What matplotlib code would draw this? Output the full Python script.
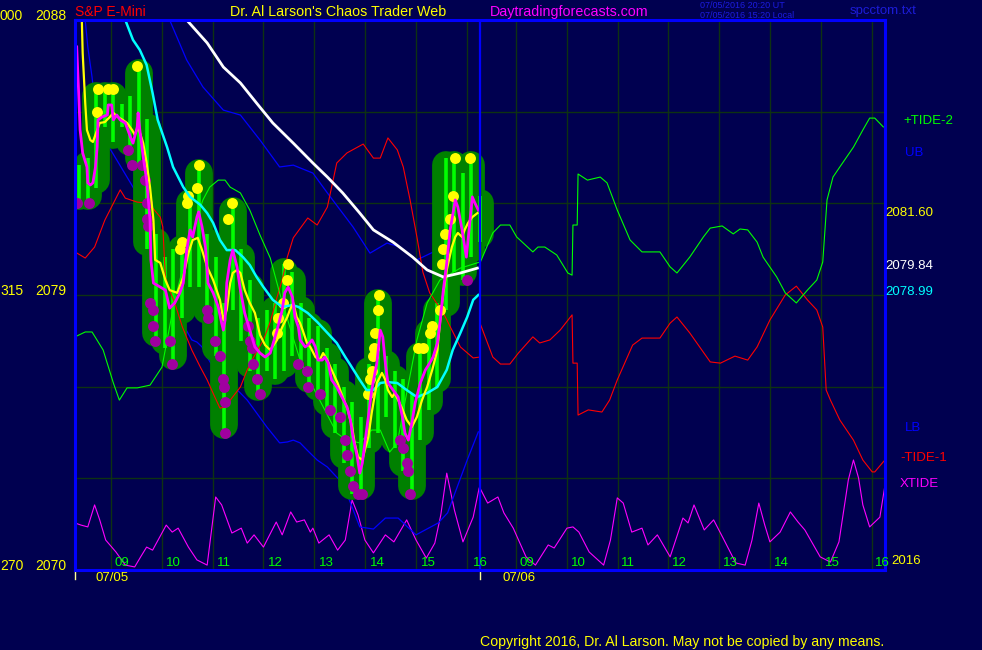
import matplotlib
matplotlib.use("Agg")
import matplotlib.pyplot as plt
import matplotlib.transforms as mtransforms
import numpy as np

plt.rcParams['font.family'] = ['Liberation Sans', 'DejaVu Sans']

# each session is drawn 08:05-16:00, times below are minutes after 08:05
SESSION = 475          # day 2 (07/06) starts where day 1 (07/05) ends

hours = ['09', '10', '11', '12', '13', '14', '15', '16']
hour_min_d1 = [55, 115, 175, 235, 295, 355, 415, 475]
hour_min_d2 = [55, 115, 174, 234, 294, 354, 413, 472]
grid_min = [42, 102, 162, 221, 280, 340, 400, 460]
grid_px = [2073, 2076, 2079, 2082, 2085]

# ---- 10 minute price bars, 07/05 ----
bar_min = np.arange(5, 476, 10)
bar_hi = [2083.25, 2083.5, 2085.75, 2085.75, 2085.75, 2085.25, 2085.5, 2086.5, 2084.75, 2081.0,
          2080.25, 2080.5, 2080.75, 2082.25, 2083.25, 2081.0, 2080.25, 2078.75, 2082.0, 2080.5,
          2079.5, 2078.25, 2078.5, 2078.75, 2080.0, 2079.75, 2078.75, 2078.25, 2078.0, 2077.25,
          2076.75, 2076.0, 2075.5, 2075.0, 2076.75, 2079.0, 2077.0, 2076.5, 2076.25, 2075.75,
          2077.25, 2078.0, 2078.75, 2083.5, 2083.5, 2083.0, 2083.5, 2082.25]
bar_lo = [2082.0, 2082.0, 2082.5, 2084.5, 2084.0, 2084.5, 2083.75, 2083.25, 2080.5, 2077.5,
          2077.25, 2076.75, 2078.25, 2079.25, 2079.25, 2078.25, 2077.0, 2074.5, 2078.5, 2077.5,
          2076.5, 2075.75, 2076.5, 2076.25, 2076.5, 2077.0, 2076.75, 2076.0, 2075.75, 2075.25,
          2074.5, 2073.5, 2072.5, 2072.5, 2074.0, 2074.5, 2075.0, 2074.0, 2073.25, 2072.5,
          2074.25, 2075.25, 2076.0, 2078.5, 2079.75, 2079.5, 2080.25, 2080.75]

# marked highs (yellow) and lows (purple)
hi_dot_min = [26, 27, 39, 45, 73, 123, 125, 131, 133, 143,
              145, 179, 184, 237, 238, 244, 249, 250, 344, 346,
              348, 350, 351, 352, 355, 357, 402, 408, 416, 419,
              428, 430, 432, 434, 440, 443, 446, 463]
hi_dot = [2085.0, 2085.75, 2085.75, 2085.75, 2086.5, 2080.5, 2080.75, 2082.0, 2082.25, 2082.5,
          2083.25, 2081.5, 2082.0, 2077.75, 2078.25, 2078.75, 2079.5, 2080.0, 2075.75, 2076.25,
          2076.5, 2077.0, 2077.25, 2077.75, 2078.5, 2079.0, 2077.25, 2077.25, 2077.75, 2078.0,
          2078.5, 2080.0, 2080.5, 2081.0, 2081.5, 2082.25, 2083.5, 2083.5]
lo_dot_min = [2, 16, 62, 67, 79, 82, 84, 85, 86, 88,
              91, 92, 94, 111, 114, 155, 156, 164, 170, 174,
              175, 176, 176, 203, 205, 208, 209, 214, 217, 262,
              272, 273, 287, 299, 311, 317, 319, 323, 326, 332,
              337, 381, 385, 389, 391, 393, 460]
lo_dot = [2082.0, 2082.0, 2083.75, 2083.25, 2083.25, 2082.75, 2082.0, 2081.5, 2081.25, 2078.75,
          2078.5, 2078.0, 2077.5, 2077.5, 2076.75, 2078.5, 2078.25, 2077.5, 2077.0, 2076.25,
          2076.0, 2075.5, 2074.5, 2078.0, 2077.5, 2077.25, 2076.75, 2076.25, 2075.75, 2076.75,
          2076.5, 2076.0, 2075.75, 2075.25, 2075.0, 2074.25, 2073.75, 2073.25, 2072.75, 2072.5,
          2072.5, 2074.25, 2074.0, 2073.5, 2073.25, 2072.5, 2079.5]

# ---- moving averages, 07/05 ----
mag_min = [2, 4, 6, 9, 14, 15, 18, 21, 24, 26,
           27, 32, 38, 39, 43, 45, 49, 53, 59, 65,
           68, 73, 74, 76, 80, 84, 86, 88, 89, 92,
           100, 106, 111, 117, 123, 127, 131, 135, 138, 143,
           145, 149, 153, 156, 162, 168, 172, 174, 176, 178,
           182, 185, 190, 194, 199, 205, 211, 217, 223, 229,
           237, 243, 246, 250, 255, 258, 262, 264, 270, 273,
           278, 282, 285, 290, 293, 297, 301, 307, 313, 319,
           323, 326, 331, 334, 337, 340, 344, 348, 354, 358,
           361, 364, 367, 373, 379, 384, 387, 391, 395, 399,
           405, 411, 416, 420, 425, 428, 432, 436, 440, 446,
           449, 454, 459, 461, 466, 469, 473]
mag_px = [2087.12, 2085.81, 2084.40, 2083.65, 2083.19, 2082.67, 2082.60, 2082.67, 2083.19, 2083.84,
          2084.73, 2084.83, 2084.89, 2085.22, 2085.22, 2084.73, 2084.89, 2084.73, 2084.63, 2084.17,
          2083.97, 2084.50, 2084.96, 2084.40, 2083.52, 2082.76, 2082.11, 2081.45, 2080.15, 2079.39,
          2079.26, 2079.16, 2078.57, 2078.74, 2079.07, 2079.39, 2080.47, 2081.13, 2080.90, 2081.55,
          2081.72, 2081.23, 2080.57, 2079.39, 2079.07, 2078.61, 2078.08, 2077.85, 2078.18, 2079.39,
          2080.15, 2080.47, 2079.92, 2079.16, 2078.41, 2077.85, 2077.30, 2077.10, 2076.97, 2077.10,
          2077.85, 2078.51, 2079.07, 2079.26, 2078.93, 2078.28, 2077.95, 2077.53, 2077.30, 2077.36,
          2077.53, 2077.30, 2076.87, 2076.87, 2076.97, 2076.77, 2076.22, 2075.99, 2075.66, 2075.34,
          2074.91, 2074.35, 2073.70, 2073.17, 2073.50, 2074.16, 2075.01, 2075.89, 2076.77, 2077.85,
          2077.63, 2076.77, 2076.12, 2075.89, 2075.66, 2075.01, 2074.48, 2074.25, 2074.81, 2075.47,
          2076.12, 2076.55, 2076.77, 2076.97, 2077.43, 2078.08, 2079.16, 2080.05, 2081.13, 2082.11,
          2081.88, 2081.13, 2080.24, 2080.80, 2082.21, 2082.01, 2081.78]

yel_min = [8, 9, 12, 14, 18, 21, 26, 29, 35, 41,
           45, 50, 56, 61, 67, 70, 74, 80, 84, 88,
           92, 94, 100, 106, 111, 120, 127, 133, 138, 144,
           149, 155, 162, 170, 174, 178, 182, 185, 190, 194,
           199, 205, 211, 217, 223, 229, 237, 243, 249, 252,
           256, 260, 264, 267, 272, 276, 282, 287, 291, 296,
           301, 308, 314, 320, 325, 328, 332, 337, 340, 344,
           348, 354, 360, 364, 367, 372, 375, 379, 383, 389,
           395, 401, 407, 413, 419, 425, 428, 432, 436, 442,
           446, 449, 454, 457, 461, 466, 472]
yel_px = [2088.00, 2086.92, 2085.28, 2084.40, 2084.07, 2084.01, 2084.40, 2084.63, 2084.66, 2084.83,
          2084.96, 2084.83, 2084.73, 2084.63, 2084.40, 2084.24, 2084.50, 2083.97, 2083.32, 2082.53,
          2081.45, 2080.15, 2080.05, 2079.49, 2079.16, 2079.07, 2079.59, 2080.37, 2080.80, 2080.87,
          2080.47, 2079.92, 2079.49, 2078.84, 2078.18, 2078.51, 2079.39, 2079.72, 2079.82, 2079.72,
          2079.16, 2078.74, 2078.41, 2077.69, 2077.36, 2077.20, 2077.53, 2077.95, 2078.28, 2078.51,
          2078.74, 2078.28, 2078.08, 2077.85, 2077.43, 2077.30, 2076.97, 2076.87, 2077.10, 2076.87,
          2076.55, 2076.12, 2075.66, 2075.24, 2074.68, 2074.16, 2073.70, 2073.60, 2073.93, 2074.35,
          2075.14, 2076.12, 2076.45, 2076.22, 2075.89, 2075.66, 2075.79, 2075.56, 2075.33, 2074.91,
          2074.68, 2075.01, 2075.56, 2075.99, 2076.55, 2077.20, 2078.08, 2079.07, 2079.82, 2080.57,
          2080.90, 2081.03, 2080.90, 2081.13, 2081.36, 2081.55, 2081.68]

cya_min = [59, 68, 76, 84, 91, 97, 108, 115, 127, 135,
           147, 155, 162, 170, 178, 188, 197, 205, 213, 221,
           232, 243, 255, 262, 273, 284, 296, 307, 317, 323,
           334, 342, 350, 358, 366, 378, 389, 401, 413, 425,
           436, 443, 452, 460, 467, 473]
cya_px = [2088.00, 2087.35, 2087.02, 2086.53, 2085.61, 2084.73, 2083.84, 2083.19, 2082.53, 2082.21,
          2081.95, 2081.68, 2081.36, 2080.80, 2080.47, 2080.47, 2080.24, 2079.98, 2079.59, 2079.26,
          2078.84, 2078.61, 2078.67, 2078.61, 2078.41, 2078.12, 2077.76, 2077.43, 2076.97, 2076.71,
          2076.22, 2075.89, 2075.89, 2076.12, 2076.15, 2076.12, 2075.89, 2075.66, 2075.79, 2075.99,
          2076.55, 2077.20, 2077.76, 2078.28, 2078.84, 2079.00]

wht_min = [131, 155, 174, 194, 213, 232, 256, 279, 296, 314, 334, 350, 373, 396, 413, 432, 452, 472]
wht_px = [2088.00, 2087.25, 2086.46, 2085.94, 2085.28, 2084.63, 2083.97, 2083.32, 2082.86,
          2082.34, 2081.68, 2081.13, 2080.73, 2080.24, 2079.82, 2079.59, 2079.72, 2079.88]

# upper / lower band
ub_min = [111, 131, 150, 174, 194, 217, 240, 256, 279, 296, 326, 346, 366, 381, 401, 425, 452]
ub_px = [2088.00, 2086.69, 2085.81, 2085.05, 2084.89, 2084.07, 2083.19, 2083.25, 2082.99,
         2082.34, 2081.23, 2080.37, 2080.70, 2080.57, 2080.15, 2080.47, 2080.47]
lb_min = [12, 15, 20, 23, 35, 70, 94, 117, 137, 143, 149, 155, 162, 194, 202, 213, 225, 240,
          249, 256, 264, 272, 284, 296, 307, 314, 334, 350, 364, 379, 400, 426, 437, 460, 473]
lb_px = [2088.00, 2087.12, 2086.13, 2085.38, 2084.07, 2082.44, 2080.15, 2078.51, 2077.53, 2077.46,
         2077.30, 2076.97, 2076.64, 2075.79, 2075.56, 2075.14, 2074.68, 2074.16, 2074.19, 2074.25,
         2074.16, 2073.93, 2073.60, 2073.37, 2073.04, 2072.85, 2071.41, 2071.34, 2071.70, 2071.70,
         2071.15, 2071.54, 2071.87, 2073.60, 2074.52]

# ---- tides, both days ----
tide1_d1_min = [0, 12, 23, 35, 47, 53, 59, 73, 86, 91,
                100, 103, 106, 111, 117, 126, 137, 147, 155, 164,
                170, 176, 184, 194, 202, 209, 221, 229, 237, 243,
                249, 256, 273, 284, 296, 307, 319, 338, 350, 358,
                367, 378, 385, 393, 401, 408, 416, 432, 452, 467,
                475]
tide1_d1 = [2080.41, 2080.21, 2080.57, 2081.45, 2082.11, 2082.44, 2082.17, 2082.04, 2082.01, 2081.85,
            2081.55, 2081.23, 2079.59, 2079.16, 2078.74, 2077.95, 2077.20, 2076.64, 2076.22, 2075.66,
            2075.30, 2075.33, 2075.63, 2075.99, 2076.55, 2076.94, 2077.53, 2078.12, 2078.93, 2079.49,
            2080.24, 2080.87, 2081.52, 2081.29, 2081.88, 2083.32, 2083.65, 2083.94, 2083.48, 2083.48,
            2084.14, 2083.75, 2083.19, 2082.11, 2080.90, 2079.75, 2079.07, 2078.41, 2077.30, 2076.94,
            2076.97]
tide1_d2_min = [0, 15, 24, 35, 45, 62, 70, 82, 94, 108,
                109, 114, 115, 127, 143, 152, 161, 179, 190, 211,
                223, 231, 246, 270, 282, 299, 314, 325, 340, 358,
                371, 384, 395, 402, 406, 411, 422, 438, 449, 460,
                463, 473, 475]
tide1_d2 = [2078.08, 2076.97, 2076.74, 2076.74, 2077.10, 2077.63, 2077.43, 2077.53, 2077.85, 2078.35,
            2076.77, 2076.77, 2075.07, 2075.24, 2075.17, 2075.56, 2076.22, 2077.36, 2077.59, 2077.59,
            2078.08, 2078.28, 2077.76, 2076.81, 2076.77, 2077.00, 2076.87, 2077.30, 2078.18, 2079.00,
            2079.29, 2078.84, 2078.51, 2077.95, 2075.89, 2075.56, 2074.91, 2074.25, 2073.60, 2073.21,
            2073.21, 2073.54, 2073.60]
tide2_d1_min = [0, 12, 20, 33, 45, 52, 61, 73, 88, 102,
                117, 135, 150, 158, 168, 176, 182, 194, 205, 217,
                229, 240, 252, 264, 279, 307, 319, 334, 348, 358,
                369, 378, 389, 401, 413, 428, 452, 475]
tide2_d1 = [2077.63, 2077.79, 2077.79, 2077.20, 2076.12, 2075.56, 2075.96, 2075.96, 2076.05, 2076.64,
            2078.84, 2080.80, 2082.11, 2082.53, 2082.76, 2082.76, 2082.53, 2082.34, 2081.78, 2080.96,
            2080.21, 2079.07, 2077.95, 2076.87, 2075.99, 2074.48, 2074.25, 2074.16, 2074.58, 2074.58,
            2073.86, 2074.16, 2075.79, 2077.53, 2078.74, 2079.49, 2079.88, 2080.08]
tide2_d2_min = [0, 15, 24, 35, 43, 62, 68, 76, 90, 103,
                108, 109, 114, 115, 126, 141, 149, 161, 176, 190,
                211, 223, 231, 246, 262, 270, 284, 297, 305, 314,
                325, 332, 348, 358, 371, 384, 395, 402, 407, 414,
                422, 438, 449, 457, 463, 473]
tide2_d2 = [2080.05, 2081.03, 2081.29, 2081.29, 2080.90, 2080.41, 2080.57, 2080.57, 2080.31, 2079.72,
            2079.65, 2081.29, 2081.29, 2082.96, 2082.76, 2082.86, 2082.67, 2081.78, 2080.80, 2080.41,
            2080.41, 2079.92, 2079.72, 2080.24, 2080.90, 2081.19, 2081.26, 2081.00, 2081.16, 2081.13,
            2080.73, 2080.24, 2079.59, 2079.07, 2078.74, 2079.16, 2079.49, 2080.08, 2082.11, 2082.86,
            2083.19, 2083.84, 2084.40, 2084.79, 2084.79, 2084.50]

# XTIDE, drawn on the price scale at the bottom
xt_d1_min = [0, 7, 15, 23, 29, 36, 48, 59, 70, 77,
             84, 91, 107, 114, 121, 133, 143, 155, 165, 172,
             184, 195, 202, 210, 221, 236, 243, 253, 260, 269,
             276, 279, 286, 298, 308, 317, 325, 332, 340, 350,
             364, 374, 389, 400, 412, 422, 429, 436, 445, 455,
             467, 474]
xt_d1 = [2071.54, 2071.47, 2071.41, 2072.13, 2071.64, 2070.98, 2070.59, 2070.16, 2070.10, 2070.43,
         2070.75, 2070.65, 2071.47, 2071.24, 2071.37, 2070.75, 2070.33, 2070.16, 2072.39, 2072.13,
         2071.21, 2071.37, 2070.88, 2071.15, 2070.75, 2071.57, 2071.15, 2071.90, 2071.57, 2071.64,
         2071.24, 2071.37, 2070.88, 2071.15, 2070.65, 2070.98, 2072.29, 2071.80, 2070.98, 2070.56,
         2071.15, 2070.92, 2071.64, 2070.98, 2070.39, 2070.88, 2071.80, 2073.17, 2071.96, 2070.92,
         2071.73, 2072.68]
xt_d2_min = [0, 9, 21, 28, 39, 54, 65, 80, 87, 102,
             109, 116, 128, 145, 153, 161, 168, 178, 190, 197,
             208, 223, 238, 244, 251, 263, 274, 285, 300, 311,
             319, 327, 334, 340, 352, 364, 373, 381, 399, 411,
             421, 432, 438, 444, 449, 457, 469, 475]
xt_d2 = [2072.68, 2072.19, 2072.39, 2071.87, 2071.37, 2070.43, 2070.16, 2070.82, 2070.72, 2071.37,
         2071.41, 2071.24, 2070.59, 2070.16, 2070.98, 2072.36, 2072.19, 2071.24, 2071.37, 2070.82,
         2071.15, 2070.43, 2071.70, 2071.54, 2072.13, 2071.31, 2071.64, 2071.05, 2070.23, 2070.16,
         2070.98, 2072.19, 2071.47, 2070.92, 2071.24, 2071.90, 2071.57, 2071.31, 2070.43, 2070.26,
         2070.92, 2072.95, 2073.60, 2073.01, 2072.13, 2071.41, 2071.73, 2072.78]

last_vals = [2081.60, 2079.84, 2078.99]
last_cols = ['#ffff00', '#ffffff', '#00ffff']


def d2(m):
    return np.array(m) + SESSION


BG = '#000050'
W, H = 982, 650
fig = plt.figure(figsize=(W / 100, H / 100), dpi=100, facecolor=BG)
ax = fig.add_axes([75 / W, 80 / H, 810 / W, 550 / H])
ax.set_facecolor(BG)
ax.set_xlim(0, 2 * SESSION)
ax.set_ylim(2070, 2088)
ax.set_xticks([])
ax.set_yticks([])
for s in ax.spines.values():
    s.set_color('#0000ff')
    s.set_linewidth(2.2)
    s.set_zorder(10)

grid_col = '#0e3212'
for g in grid_min:
    ax.axvline(g, color=grid_col, lw=1, zorder=0)
    ax.axvline(g + SESSION, color=grid_col, lw=1, zorder=0)
for p in grid_px:
    ax.axhline(p, color=grid_col, lw=1, zorder=0)
ax.axvline(SESSION, color='#0000ff', lw=1.6, zorder=9)

# XTIDE
ax.plot(xt_d1_min, xt_d1, color='#ff00ff', lw=0.8, zorder=1)
ax.plot(d2(xt_d2_min), xt_d2, color='#ff00ff', lw=0.8, zorder=1)

# bands
ax.plot(ub_min, ub_px, color='#0000ff', lw=0.9, zorder=2)
ax.plot(lb_min, lb_px, color='#0000ff', lw=0.9, zorder=2)

# price bars: dark green halo (a little inside the extremes) + bright bar
for t, hi, lo in zip(bar_min, bar_hi, bar_lo):
    mid = (hi + lo) / 2
    top, bot = max(hi - 0.25, mid), min(lo + 0.25, mid)
    ax.plot([t, t], [bot, top], color='#008000', lw=20, solid_capstyle='round', zorder=3)
for t, hi, lo in zip(bar_min, bar_hi, bar_lo):
    ax.plot([t, t], [lo, hi], color='#00ff00', lw=2.6, solid_capstyle='butt', zorder=4)

# tides
ax.plot(tide1_d1_min, tide1_d1, color='#ff0000', lw=0.8, zorder=5)
ax.plot(d2(tide1_d2_min), tide1_d2, color='#ff0000', lw=0.8, zorder=5)
ax.plot(tide2_d1_min, tide2_d1, color='#00ff00', lw=0.8, zorder=5)
ax.plot(d2(tide2_d2_min), tide2_d2, color='#00ff00', lw=0.8, zorder=5)

# marked highs / lows
ax.scatter(hi_dot_min, hi_dot, s=62, color='#ffff00', linewidths=0, zorder=6)
ax.scatter(lo_dot_min, lo_dot, s=62, color='#a000a0', linewidths=0, zorder=6)

# averages
ax.plot(wht_min, wht_px, color='#ffffff', lw=2.0, zorder=7)
ax.plot(cya_min, cya_px, color='#00ffff', lw=1.8, zorder=7)
ax.plot(yel_min, yel_px, color='#ffff00', lw=1.6, zorder=8)
ax.plot(mag_min, mag_px, color='#ff00ff', lw=2.0, zorder=8)

# hour labels for both days
for day, hmins in ((0, hour_min_d1), (SESSION, hour_min_d2)):
    for h, m in zip(hours, hmins):
        ax.text(day + m, 2070.12, h, color='#00ff00', fontsize=9.5,
                ha='center', va='baseline', zorder=11, clip_on=False)
ax.text(24, 2069.93, '07/05', color='#ffff00', fontsize=9.5, ha='left', va='top')
ax.text(SESSION + 26, 2069.93, '07/06', color='#ffff00', fontsize=9.5, ha='left', va='top')
for x0 in (0, SESSION):
    ax.plot([x0, x0], [2070, 2069.7], color='#ffff99', lw=1, clip_on=False)

# price labels
tr = mtransforms.blended_transform_factory(fig.transFigure, ax.transData)
for val, other in zip([2088, 2079, 2070], ['000', '315', '270']):
    fig.text(0.0, val, other, transform=tr, color='#ffff00', fontsize=10, ha='left', va='baseline')
    fig.text(66 / W, val, str(val), transform=tr, color='#ffff00', fontsize=10, ha='right', va='baseline')
for v, c in zip(last_vals, last_cols):
    fig.text(885 / W, v, f'{v:.2f}', transform=tr, color=c, fontsize=9.5, ha='left', va='baseline')


def ftext(x, y, s, color, size=9.5, **kw):
    fig.text(x / W, 1 - y / H, s, color=color, fontsize=size, va='center', ha='left', **kw)


ftext(903, 121, '+TIDE-2', '#00ff00')
ftext(905, 153, 'UB', '#0000ff')
ftext(905, 428, 'LB', '#0000ff')
ftext(900, 458, '-TIDE-1', '#ff0000')
ftext(900, 484, 'XTIDE', '#ff00ff')
ftext(891, 561, '2016', '#ffff00')

ftext(75, 12, 'S&P E-Mini', '#ff0000', size=10)
ftext(230, 12, "Dr. Al Larson's Chaos Trader Web", '#ffff00', size=10.3)
ftext(490, 12, 'Daytradingforecasts.com', '#ff00ff', size=10.3)
ftext(700, 5, '07/05/2016 20:20 UT', '#1c1ce0', size=6.5)
ftext(700, 15, '07/05/2016 15:20 Local', '#1c1ce0', size=6.5)
ftext(850, 11, 'spcctom.txt', '#1c1cd8')
ftext(480, 642, 'Copyright 2016, Dr. Al Larson. May not be copied by any means.', '#ffff00', size=10.2)

fig.savefig('out.png', dpi=100, facecolor=BG)
